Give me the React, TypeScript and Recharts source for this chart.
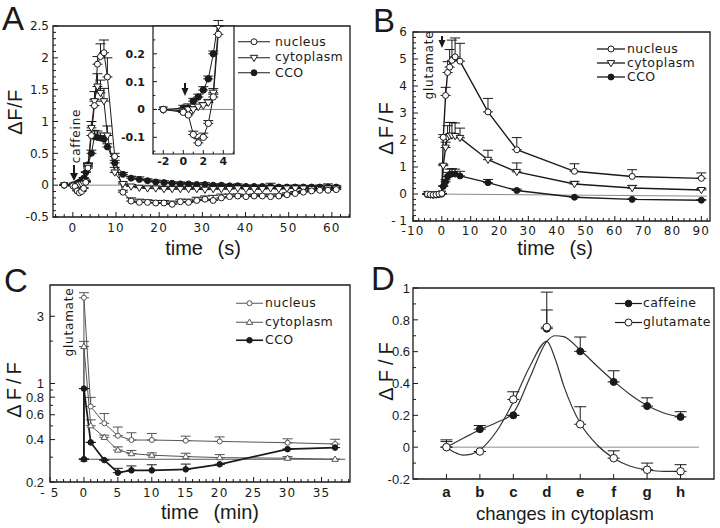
import React from 'react';
import { LineChart, Line, XAxis, YAxis, ErrorBar, ReferenceLine, ReferenceArea } from 'recharts';

const INK = '#1a1a1a';

// ---- A: caffeine, time (s); the inset re-uses the same series
const timeA = [-2, 0, 0.5, 1, 1.5, 2, 2.5, 3, 3.5, 4.3, 5, 5.7, 6.4, 7.2, 8, 9.7, 11.6, 13.5, 15.4, 17.3, 19.2, 21.1, 23, 24.9, 26.8, 28.7, 30.6, 32.5, 34.4, 36.3, 38.2, 40.1, 42, 43.9, 45.8, 47.7, 49.6, 51.5, 53.4, 55.3, 57.2, 59.1, 61];
const nucleusA = [0, -0.01, -0.02, -0.09, -0.12, -0.1, -0.05, 0.045, 0.27, 0.78, 1.25, 1.9, 2.02, 2.08, 1.7, 0.45, -0.11, -0.25, -0.27, -0.27, -0.28, -0.28, -0.3, -0.26, -0.27, -0.24, -0.22, -0.24, -0.2, -0.18, -0.17, -0.18, -0.17, -0.17, -0.18, -0.17, -0.15, -0.13, -0.11, -0.09, -0.08, -0.08, -0.07];
const nucleusErrA = [0, 0, 0.005, 0.012, 0.015, 0.015, 0.01, 0.01, 0.03, 0.08, 0.1, 0.12, 0.2, 0.2, 0.3, 0.05, 0.03, 0.05, 0.05, 0.04, 0.04, 0.04, 0.05, 0.04, 0.05, 0.05, 0.05, 0.08, 0.06, 0.04, 0.03, 0.03, 0.03, 0.03, 0.04, 0.03, 0.03, 0.03, 0.03, 0.03, 0.03, 0.03, 0.03];
const cytoA = [0, -0.005, 0, 0, 0.01, 0.015, 0.025, 0.06, 0.3, 0.9, 1.32, 1.55, 1.45, 1.32, 0.78, 0.2, 0.02, -0.02, -0.04, -0.05, -0.05, -0.06, -0.06, -0.06, -0.06, -0.06, -0.07, -0.06, -0.06, -0.06, -0.05, -0.06, -0.06, -0.06, -0.05, -0.06, -0.05, -0.05, -0.05, -0.06, -0.06, -0.05, -0.05];
const cytoErrA = [0, 0, 0.005, 0.005, 0.008, 0.01, 0.01, 0.015, 0.04, 0.1, 0.15, 0.2, 0.2, 0.2, 0.15, 0.08, 0.03, 0.03, 0.02, 0.02, 0.03, 0.02, 0.02, 0.03, 0.02, 0.02, 0.02, 0.03, 0.02, 0.02, 0.02, 0.02, 0.03, 0.02, 0.02, 0.02, 0.02, 0.02, 0.02, 0.02, 0.02, 0.02, 0.02];
const ccoA = [0, 0.005, 0.005, 0.03, 0.045, 0.07, 0.11, 0.2, 0.32, 0.5, 0.76, 0.75, 0.74, 0.72, 0.6, 0.35, 0.17, 0.11, 0.09, 0.07, 0.05, 0.04, 0.03, 0.02, 0.02, 0.01, 0.01, 0, 0, -0.01, -0.01, -0.02, -0.02, -0.02, -0.02, -0.03, -0.03, -0.03, -0.03, -0.03, -0.03, -0.03, -0.03];
const ccoErrA = [0, 0.01, 0.015, 0.01, 0.01, 0.012, 0.01, 0.01, 0.03, 0.05, 0.1, 0.1, 0.08, 0.05, 0.05, 0.04, 0.03, 0.03, 0.04, 0.03, 0.03, 0.03, 0.02, 0.03, 0.02, 0.02, 0.03, 0.02, 0.02, 0.02, 0.03, 0.02, 0.02, 0.02, 0.05, 0.02, 0.02, 0.03, 0.02, 0.02, 0.03, 0.05, 0.02];

// ---- B: glutamate, time (s)
const timeB = [-5, -4, -3, -2, -1, 0, 0.5, 1.3, 2, 2.7, 3.5, 4.6, 6.3, 16, 26, 46, 66, 90];
const nucleusB = [0, -0.02, -0.03, -0.02, 0, 0.02, 2.1, 3.65, 4.5, 4.7, 4.95, 5.08, 4.92, 3.04, 1.64, 0.84, 0.65, 0.58];
const nucleusErrB = [0, 0, 0, 0, 0, 0, 0.1, 0.3, 0.4, 0.65, 0.75, 0.7, 0.66, 0.5, 0.45, 0.28, 0.25, 0.2];
const cytoB = [0, -0.02, -0.03, -0.02, 0, 0.02, 1.05, 1.72, 2.1, 2.15, 2.17, 2.15, 2.08, 1.27, 0.82, 0.37, 0.22, 0.15];
const cytoErrB = [0, 0, 0, 0, 0, 0, 0.05, 0.2, 0.43, 0.5, 0.48, 0.48, 0.36, 0.35, 0.33, 0.1, 0.1, 0.05];
const ccoB = [-0.02, -0.03, -0.04, -0.03, -0.02, 0, 0.28, 0.45, 0.65, 0.72, 0.74, 0.74, 0.67, 0.42, 0.13, -0.12, -0.2, -0.23];
const ccoErrB = [0, 0, 0, 0, 0, 0, 0.03, 0.08, 0.15, 0.2, 0.2, 0.18, 0.17, 0.12, 0.05, 0.02, 0.02, 0.02];

// ---- C: glutamate, time (min), log axis
const timeC = [0, 0, 1, 3, 5, 7, 10, 15, 20, 30, 37];
const nucleusC = [0.29, 4.06, 0.687, 0.522, 0.426, 0.397, 0.397, 0.393, 0.388, 0.38, 0.372];
const nucleusErrC = [0, 0.35, 0.11, 0.09, 0.065, 0.05, 0.045, 0.03, 0.03, 0.025, 0.03];
const cytoC = [0.29, 1.83, 0.502, 0.415, 0.337, 0.318, 0.31, 0.303, 0.298, 0.295, 0.29];
const cytoErrC = [0, 0.16, 0.05, 0.015, 0.018, 0.017, 0.012, 0.017, 0.015, 0.008, 0];
const ccoC = [0.29, 0.92, 0.382, 0.286, 0.233, 0.242, 0.242, 0.246, 0.267, 0.342, 0.351];
const ccoErrC = [0, 0, 0, 0, 0.017, 0.018, 0.023, 0.022, 0, 0, 0];

// ---- D: changes in cytoplasm (categories a..h) with smooth fits
const stagesD = ['a', 'b', 'c', 'd', 'e', 'f', 'g', 'h'];
const caffeineD = [0, 0.113, 0.2, 0.744, 0.602, 0.41, 0.258, 0.19];
const caffeineErrD = [0.046, 0.023, 0, 0.118, 0.09, 0.07, 0.052, 0.033];
const glutamateD = [0, -0.027, 0.3, 0.754, 0.144, -0.069, -0.142, -0.152];
const glutamateErrD = [0.035, 0, 0.048, 0.22, 0.11, 0.046, 0.042, 0.042];
const fitPosD = [0, 0.25, 0.5, 0.75, 1, 1.5, 2, 2.5, 3, 3.25, 3.5, 4, 4.5, 5, 5.5, 6, 6.5, 7];
const caffeineFitD = [0, 0.028, 0.056, 0.083, 0.11, 0.155, 0.215, 0.44, 0.665, 0.7, 0.695, 0.61, 0.51, 0.415, 0.33, 0.262, 0.215, 0.19];
const glutamateFitD = [0, -0.033, -0.05, -0.044, -0.017, 0.1, 0.285, 0.51, 0.665, 0.556, 0.39, 0.15, 0.015, -0.069, -0.12, -0.142, -0.152, -0.152];

// tick values
const range = (a: number, b: number, s: number) => {
  const out: number[] = [];
  for (let v = a; v <= b + 1e-9; v += s) out.push(Math.round(v * 1000) / 1000);
  return out;
};
const majorAX = [0, 10, 20, 30, 40, 50, 60];
const majorAY = [-0.5, 0, 0.5, 1, 1.5, 2, 2.5];
const majorInX = [-2, 0, 2, 4];
const majorInY = [-0.1, 0, 0.1, 0.2];
const majorBX = [-10, 0, 10, 20, 30, 40, 50, 60, 70, 80, 90];
const majorBY = [-1, 0, 1, 2, 3, 4, 5, 6];
const majorCX = [-5, 0, 5, 10, 15, 20, 25, 30, 35];
const majorCY = [0.2, 0.4, 0.6, 0.8, 1, 3];
const minorCY = [0.3, 0.5, 0.7, 0.9, 2];
const majorDX = [0, 1, 2, 3, 4, 5, 6, 7];
const majorDY = [-0.2, 0, 0.2, 0.4, 0.6, 0.8, 1];

type Mark = 'open' | 'filled' | 'down' | 'up';

const markerEl = (kind: Mark, r: number, cx: number, cy: number, stroke: string, key?: string) => {
  if (kind === 'open' || kind === 'filled') {
    return <circle key={key} cx={cx} cy={cy} r={r} fill={kind === 'filled' ? stroke : '#fff'} stroke={stroke} strokeWidth={1} />;
  }
  const s = r * 1.25;
  const pts =
    kind === 'down'
      ? `${cx - s},${cy - s * 0.65} ${cx + s},${cy - s * 0.65} ${cx},${cy + s}`
      : `${cx - s},${cy + s * 0.65} ${cx + s},${cy + s * 0.65} ${cx},${cy - s}`;
  return <polygon key={key} points={pts} fill="#fff" stroke={stroke} strokeWidth={1} />;
};

const marker = (kind: Mark, r: number, stroke = INK) => (p: any) => {
  const { cx, cy, index } = p;
  if (cx == null || cy == null || Number.isNaN(cx) || Number.isNaN(cy)) return <g key={`m${index}`} />;
  return markerEl(kind, r, cx, cy, stroke, `m${index}`);
};

type TickOpts = {
  axis: 'x' | 'y';
  gap: number;
  major: number[];
  fmt?: (v: number) => string;
  font?: string;
  size?: number;
  weight?: number;
  spacing?: number;
  len?: number;
};

const tickMaker = (o: TickOpts) => (p: any) => {
  const v = Number(p.payload.value);
  const isMajor = o.major.some((m) => Math.abs(m - v) < 1e-6);
  const len = (o.len ?? 5) * (isMajor ? 1 : 0.6);
  const label = isMajor ? (o.fmt ? o.fmt(v) : String(v)) : '';
  const style = {
    fontFamily: o.font ?? 'DejaVu Sans',
    fontSize: o.size ?? 12,
    fontWeight: o.weight ?? 400,
    letterSpacing: o.spacing ?? 0,
  };
  if (o.axis === 'x') {
    const base = p.y - o.gap;
    return (
      <g>
        <line x1={p.x} x2={p.x} y1={base} y2={base - len} stroke={INK} strokeWidth={1} />
        {label && (
          <text x={p.x} y={p.y} dy="0.78em" textAnchor="middle" fill={INK} style={style}>
            {label}
          </text>
        )}
      </g>
    );
  }
  const base = p.x + o.gap;
  return (
    <g>
      <line x1={base} x2={base + len} y1={p.y} y2={p.y} stroke={INK} strokeWidth={1} />
      {label && (
        <text x={p.x} y={p.y} dy="0.36em" textAnchor="end" fill={INK} style={style}>
          {label}
        </text>
      )}
    </g>
  );
};

const rows = (xs: number[], ys: number[], errs?: number[]) =>
  xs.map((x, i) => ({ x, y: ys[i], e: [0, errs ? errs[i] : 0] }));

const series = (key: string, data: any[], kind: Mark, r: number, stroke: string, sw: number, capW = 5, lineStroke?: string) => (
  <Line
    key={key}
    data={data}
    dataKey="y"
    type="linear"
    stroke={lineStroke ?? stroke}
    strokeWidth={sw}
    dot={marker(kind, r, stroke)}
    activeDot={false}
    isAnimationActive={false}
  >
    <ErrorBar dataKey="e" direction="y" width={capW} stroke={stroke} strokeWidth={1} />
  </Line>
);

type KeyItem = { label: string; kind: Mark; r: number; stroke: string; sw: number };

function Key({ x, y, rowH, lineW, gap, items }: { x: number; y: number; rowH: number; lineW: number; gap: number; items: KeyItem[] }) {
  return (
    <div style={{ position: 'absolute', left: x, top: y }}>
      {items.map((it) => (
        <div key={it.label} style={{ display: 'flex', alignItems: 'center', height: rowH }}>
          <svg width={lineW} height={rowH} style={{ display: 'block' }}>
            <line x1={0} x2={lineW} y1={rowH / 2} y2={rowH / 2} stroke={it.stroke} strokeWidth={it.sw} />
            {markerEl(it.kind, it.r, lineW / 2, rowH / 2, it.stroke)}
          </svg>
          <span
            style={{
              marginLeft: gap,
              fontFamily: 'DejaVu Sans',
              fontSize: 12.5,
              letterSpacing: 0.4,
              color: INK,
              lineHeight: 1,
              whiteSpace: 'nowrap',
            }}
          >
            {it.label}
          </span>
        </div>
      ))}
    </div>
  );
}

const place = (left: number, top: number): React.CSSProperties => ({ position: 'absolute', left, top });

const A_X = [-4.6, 64.2];
const A_Y = [-0.5, 2.5];
const IN_X = [-3.03, 5.07];
const IN_Y = [-0.16, 0.3];
const B_X = [-10, 93];
const B_Y = [-1, 6];
const C_X = [-5, 39.2];
const C_Y = [0.2, 5];
const D_X = [-1, 8];
const D_Y = [-0.2, 1];

const arrow = (x: number, y1: number, y2: number, w: number) => (
  <g>
    <line x1={x} x2={x} y1={y1} y2={y2 - 5} stroke={INK} strokeWidth={2} />
    <polygon points={`${x - w},${y2 - 8} ${x + w},${y2 - 8} ${x},${y2}`} fill={INK} />
  </g>
);

export default function App() {
  const aNuc = rows(timeA, nucleusA, nucleusErrA);
  const aCyt = rows(timeA, cytoA, cytoErrA);
  const aCco = rows(timeA, ccoA, ccoErrA);
  const bNuc = rows(timeB, nucleusB, nucleusErrB);
  const bCyt = rows(timeB, cytoB, cytoErrB);
  const bCco = rows(timeB, ccoB, ccoErrB);
  const cNuc = rows(timeC, nucleusC, nucleusErrC);
  const cCyt = rows(timeC, cytoC, cytoErrC);
  const cCco = rows(timeC, ccoC, ccoErrC);
  const stageIdx = stagesD.map((_, i) => i);
  const dCaf = rows(stageIdx, caffeineD, caffeineErrD);
  const dGlu = rows(stageIdx, glutamateD, glutamateErrD);
  const dCafFit = rows(fitPosD, caffeineFitD);
  const dGluFit = rows(fitPosD, glutamateFitD);

  const titleStyle = { fontFamily: 'Liberation Sans', fill: INK } as const;

  return (
    <div style={{ position: 'absolute', left: 0, top: 0, width: 720, height: 528, background: '#fff', overflow: 'hidden' }}>
      {/* A */}
      <div style={place(0, 0)}>
        <LineChart width={360} height={260} margin={{ top: 26, right: 10, bottom: 0, left: 0 }}>
          <XAxis type="number" dataKey="x" domain={A_X} allowDataOverflow ticks={range(-4, 64, 2)} interval={0}
            height={43} tickSize={0} tickMargin={6} axisLine={false} tickLine={false}
            tick={tickMaker({ axis: 'x', gap: 6, major: majorAX, spacing: 1.2 })} />
          <YAxis type="number" domain={A_Y} allowDataOverflow ticks={range(-0.5, 2.5, 0.1)} interval={0}
            width={53} tickSize={0} tickMargin={4} axisLine={false} tickLine={false}
            tick={tickMaker({ axis: 'y', gap: 4, major: majorAY })} />
          <ReferenceArea x1={A_X[0]} x2={A_X[1]} y1={A_Y[0]} y2={A_Y[1]} fill="none" stroke={INK} strokeWidth={1.3} ifOverflow="visible" />
          <ReferenceLine segment={[{ x: -2, y: 0 }, { x: 62, y: 0 }]} stroke="#8a8a8a" strokeWidth={1} />
          {series('a-cco', aCco, 'filled', 3, INK, 1)}
          {series('a-cyt', aCyt, 'down', 3, INK, 1)}
          {series('a-nuc', aNuc, 'open', 3, INK, 1)}
        </LineChart>
      </div>
      {/* A inset */}
      <div style={place(118, 20)}>
        <LineChart width={122} height={155} margin={{ top: 6, right: 6, bottom: 0, left: 0 }}>
          <XAxis type="number" dataKey="x" domain={IN_X} allowDataOverflow ticks={range(-3, 5, 1)} interval={0}
            height={21} tickSize={0} tickMargin={2} axisLine={false} tickLine={false}
            tick={tickMaker({ axis: 'x', gap: 2, major: majorInX, size: 11, weight: 700, len: 4, fmt: (v) => (v < 0 ? `-${-v}` : String(v)) })} />
          <YAxis type="number" domain={IN_Y} allowDataOverflow ticks={range(-0.15, 0.25, 0.05)} interval={0}
            width={35} tickSize={0} tickMargin={8} axisLine={false} tickLine={false}
            tick={tickMaker({ axis: 'y', gap: 8, major: majorInY, size: 11, weight: 700, len: 4 })} />
          <ReferenceArea x1={IN_X[0]} x2={IN_X[1]} y1={IN_Y[0]} y2={IN_Y[1]} fill="#fff" stroke={INK} strokeWidth={1.2} ifOverflow="visible" />
          <ReferenceLine segment={[{ x: -2, y: 0 }, { x: 62, y: 0 }]} stroke="#8a8a8a" strokeWidth={1} ifOverflow="hidden" />
          {series('i-cco', aCco, 'filled', 3.2, INK, 1, 5)}
          {series('i-cyt', aCyt, 'down', 3.2, INK, 1, 5)}
          {series('i-nuc', aNuc, 'open', 3.2, INK, 1, 5)}
        </LineChart>
      </div>

      {/* B */}
      <div style={place(360, 0)}>
        <LineChart width={360} height={260} margin={{ top: 32, right: 10, bottom: 0, left: 0 }}>
          <XAxis type="number" dataKey="x" domain={B_X} allowDataOverflow ticks={range(-10, 92, 2)} interval={0}
            height={39} tickSize={0} tickMargin={5} axisLine={false} tickLine={false}
            tick={tickMaker({ axis: 'x', gap: 5, major: majorBX, spacing: 1.2 })} />
          <YAxis type="number" domain={B_Y} allowDataOverflow ticks={range(-1, 6, 0.2)} interval={0}
            width={53} tickSize={0} tickMargin={6} axisLine={false} tickLine={false}
            tick={tickMaker({ axis: 'y', gap: 6, major: majorBY, fmt: (v) => (v < 0 ? `- ${-v}` : String(v)) })} />
          <ReferenceArea x1={B_X[0]} x2={B_X[1]} y1={B_Y[0]} y2={B_Y[1]} fill="none" stroke={INK} strokeWidth={1.3} ifOverflow="visible" />
          <ReferenceLine segment={[{ x: -4.5, y: 0 }, { x: 92, y: -0.08 }]} stroke="#8a8a8a" strokeWidth={1} />
          {series('b-cco', bCco, 'filled', 3, INK, 1.4)}
          {series('b-cyt', bCyt, 'down', 3, INK, 1.4)}
          {series('b-nuc', bNuc, 'open', 3, INK, 1.4)}
        </LineChart>
      </div>

      {/* C */}
      <div style={place(0, 260)}>
        <LineChart width={360} height={268} margin={{ top: 25, right: 10, bottom: 0, left: 0 }}>
          <XAxis type="number" dataKey="x" domain={C_X} allowDataOverflow ticks={range(-5, 39, 1)} interval={0}
            height={46} tickSize={0} tickMargin={6} axisLine={false} tickLine={false}
            tick={tickMaker({ axis: 'x', gap: 6, major: majorCX, spacing: 1.2, fmt: (v) => (v < 0 ? `- ${-v}` : String(v)) })} />
          <YAxis type="number" scale="log" domain={C_Y} allowDataOverflow ticks={[...majorCY, ...minorCY]} interval={0}
            width={50} tickSize={0} tickMargin={6} axisLine={false} tickLine={false}
            tick={tickMaker({ axis: 'y', gap: 6, major: majorCY, font: 'Liberation Sans', size: 13 })} />
          <ReferenceArea x1={C_X[0]} x2={C_X[1]} y1={C_Y[0]} y2={C_Y[1]} fill="none" stroke={INK} strokeWidth={1.3} ifOverflow="visible" />
          <ReferenceLine segment={[{ x: 0, y: 0.29 }, { x: 38.5, y: 0.29 }]} stroke="#555" strokeWidth={1} />
          {series('c-nuc', cNuc, 'open', 2.5, '#555', 1, 5)}
          {series('c-cyt', cCyt, 'up', 2.6, '#555', 1, 5)}
          {series('c-cco', cCco, 'filled', 2.8, INK, 1.7, 5)}
        </LineChart>
      </div>

      {/* D */}
      <div style={place(360, 260)}>
        <LineChart width={360} height={268} margin={{ top: 28, right: 6, bottom: 0, left: 0 }}>
          <XAxis type="number" dataKey="x" domain={D_X} allowDataOverflow ticks={majorDX} interval={0}
            height={49} tickSize={0} tickMargin={6} axisLine={false} tickLine={false}
            tick={tickMaker({ axis: 'x', gap: 6, major: majorDX, font: 'Liberation Sans', size: 15, weight: 700, fmt: (v) => stagesD[v] })} />
          <YAxis type="number" domain={D_Y} allowDataOverflow ticks={range(-0.2, 1, 0.1)} interval={0}
            width={53} tickSize={0} tickMargin={3} axisLine={false} tickLine={false}
            tick={tickMaker({ axis: 'y', gap: 3, major: majorDY, font: 'Liberation Sans', size: 13 })} />
          <ReferenceArea x1={D_X[0]} x2={D_X[1]} y1={D_Y[0]} y2={D_Y[1]} fill="none" stroke={INK} strokeWidth={1.3} ifOverflow="visible" />
          <ReferenceLine segment={[{ x: 0, y: 0 }, { x: 7.55, y: 0 }]} stroke="#8a8a8a" strokeWidth={1} />
          <Line data={dCafFit} dataKey="y" type="monotone" stroke="#333" strokeWidth={1.2} dot={false} activeDot={false} isAnimationActive={false} />
          <Line data={dGluFit} dataKey="y" type="monotone" stroke="#333" strokeWidth={1.2} dot={false} activeDot={false} isAnimationActive={false} />
          {series('d-caf', dCaf, 'filled', 3.5, INK, 0, 6, 'none')}
          {series('d-glu', dGlu, 'open', 3.8, INK, 0, 6, 'none')}
        </LineChart>
      </div>

      {/* legends */}
      <Key x={238} y={34} rowH={15.5} lineW={32} gap={5} items={[
        { label: 'nucleus', kind: 'open', r: 3, stroke: INK, sw: 1 },
        { label: 'cytoplasm', kind: 'down', r: 3, stroke: INK, sw: 1 },
        { label: 'CCO', kind: 'filled', r: 3, stroke: INK, sw: 1 },
      ]} />
      <Key x={597} y={42} rowH={14} lineW={28} gap={2} items={[
        { label: 'nucleus', kind: 'open', r: 3, stroke: INK, sw: 1.3 },
        { label: 'cytoplasm', kind: 'down', r: 3, stroke: INK, sw: 1.3 },
        { label: 'CCO', kind: 'filled', r: 3, stroke: INK, sw: 1.3 },
      ]} />
      <Key x={236} y={294} rowH={18.5} lineW={27} gap={2} items={[
        { label: 'nucleus', kind: 'open', r: 2.5, stroke: '#555', sw: 1 },
        { label: 'cytoplasm', kind: 'up', r: 2.6, stroke: '#555', sw: 1 },
        { label: 'CCO', kind: 'filled', r: 2.8, stroke: INK, sw: 1.6 },
      ]} />
      <Key x={615} y={293.5} rowH={19} lineW={27} gap={1} items={[
        { label: 'caffeine', kind: 'filled', r: 3.3, stroke: INK, sw: 1.2 },
        { label: 'glutamate', kind: 'open', r: 3.5, stroke: INK, sw: 1.2 },
      ]} />

      {/* titles, panel letters, annotations */}
      <svg width={720} height={528} style={{ position: 'absolute', left: 0, top: 0, pointerEvents: 'none' }}>
        <g style={{ ...titleStyle, fontSize: 33 }}>
          <text x={2} y={30} fill={INK}>A</text>
          <text x={373} y={32} fill={INK}>B</text>
          <text x={4} y={292} fill={INK}>C</text>
          <text x={371} y={290} fill={INK}>D</text>
        </g>
        <g style={{ ...titleStyle, fontSize: 20 }}>
          <text x={203} y={255} textAnchor="middle" fill={INK} wordSpacing={9}>time (s)</text>
          <text x={555} y={255} textAnchor="middle" fill={INK} wordSpacing={9}>time (s)</text>
          <text x={210} y={519} textAnchor="middle" fill={INK} wordSpacing={9}>time (min)</text>
          <text x={22} y={112} textAnchor="middle" fill={INK} transform="rotate(-90 22 112)" letterSpacing={0.5}>ΔF/F</text>
          <text x={393} y={127} textAnchor="middle" fill={INK} transform="rotate(-90 393 127)" letterSpacing={3}>ΔF/F</text>
          <text x={21} y={388} textAnchor="middle" fill={INK} transform="rotate(-90 21 388)" letterSpacing={4}>ΔF/F</text>
          <text x={393} y={369} textAnchor="middle" fill={INK} transform="rotate(-90 393 369)" letterSpacing={5}>ΔF/F</text>
        </g>
        <text x={565} y={520} textAnchor="middle" fill={INK} style={{ ...titleStyle, fontSize: 18.5 }}>changes in cytoplasm</text>
        <g style={{ fontFamily: 'DejaVu Sans', fontSize: 12, fill: INK, letterSpacing: 0.8 }}>
          <text x={80} y={136} textAnchor="middle" transform="rotate(-90 80 136)">caffeine</text>
          <text x={433} y={65} textAnchor="middle" transform="rotate(-90 433 65)">glutamate</text>
          <text x={73} y={322} textAnchor="middle" transform="rotate(-90 73 322)">glutamate</text>
        </g>
        {arrow(74, 165, 181, 4)}
        {arrow(185, 83, 96, 3.5)}
        {arrow(442, 36, 48, 3.5)}
      </svg>
    </div>
  );
}
